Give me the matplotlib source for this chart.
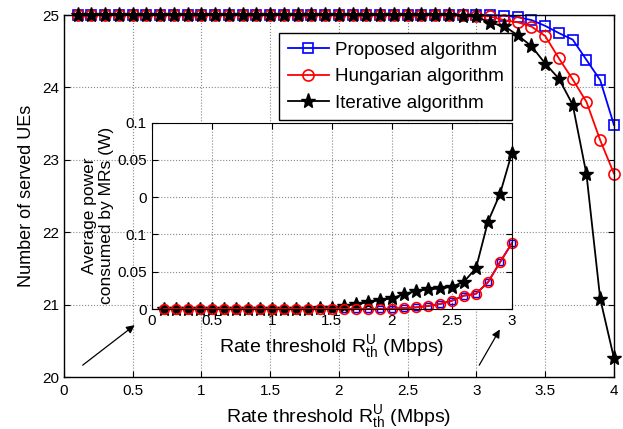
import numpy as np
import matplotlib
matplotlib.use('Agg')
import matplotlib.pyplot as plt

plt.rcParams['font.family'] = ['Liberation Sans', 'DejaVu Sans']
plt.rcParams['mathtext.fontset'] = 'custom'
plt.rcParams['mathtext.rm'] = 'Liberation Sans'
plt.rcParams['mathtext.it'] = 'Liberation Sans'

# main plot: number of served UEs vs rate threshold
rate = np.linspace(0.1, 4.0, 40)
proposed = [25, 25, 25, 25, 25, 25, 25, 25, 25, 25,
            25, 25, 25, 25, 25, 25, 25, 25, 25, 25,
            25, 25, 25, 25, 25, 25, 25, 25, 25, 25,
            25, 24.99, 24.97, 24.93, 24.85, 24.75, 24.66, 24.38, 24.10, 23.48]
hungarian = [25, 25, 25, 25, 25, 25, 25, 25, 25, 25,
             25, 25, 25, 25, 25, 25, 25, 25, 25, 25,
             25, 25, 25, 25, 25, 25, 25, 25, 25, 24.99,
             24.98, 24.93, 24.90, 24.84, 24.71, 24.40, 24.11, 23.80, 23.27, 22.81]
iterative = [25, 25, 25, 25, 25, 25, 25, 25, 25, 25,
             25, 25, 25, 25, 25, 25, 25, 25, 25, 25,
             25, 25, 25, 25, 25, 25, 25, 25, 24.99, 24.98,
             24.89, 24.85, 24.72, 24.57, 24.33, 24.12, 23.76, 22.80, 21.08, 20.26]

# inset: average power consumed by MRs (drawn on the inset's own tick scale)
rate_in = np.linspace(0.1, 3.0, 30)
power_hung = [0, 0, 0, 0, 0, 0, 0, 0, 0, 0,
              0, 0, 0, 0, 0, 0, 0, 0, 0, 0.0005,
              0.0013, 0.0022, 0.004, 0.0067, 0.0111, 0.0179, 0.0205, 0.0358, 0.0627, 0.0885]
power_prop = power_hung
power_iter = [0, 0, 0, 0, 0, 0, 0, 0, 0, 0,
              0, 0, 0, 0.001, 0.0015, 0.004, 0.0067, 0.009, 0.0121, 0.0143,
              0.0201, 0.0241, 0.0264, 0.0277, 0.0299, 0.0367, 0.0546, 0.1172, 0.1543, 0.2097]
inset_ticks = [0, 0.05, 0.1, 0.15, 0.2, 0.25]
inset_tick_labels = ['0', '0.05', '0.1', '0', '0.05', '0.1']

xlab = r'Rate threshold $\mathrm{R}_{\mathrm{th}}^{\mathrm{U}}$ (Mbps)'

fig = plt.figure(figsize=(6.23, 4.29), dpi=100)
ax = fig.add_axes([0.1027, 0.1212, 0.8828, 0.8438])

ax.plot(rate, proposed, '-s', color='blue', lw=1.3, ms=6.5, mfc='none', mew=1.2,
        label='Proposed algorithm', clip_on=False)
ax.plot(rate, hungarian, '-o', color='red', lw=1.3, ms=8, mfc='none', mew=1.2,
        label='Hungarian algorithm', clip_on=False)
ax.plot(rate, iterative, '-*', color='black', lw=1.3, ms=11,
        label='Iterative algorithm', clip_on=False)

ax.set_xlim(0, 4)
ax.set_ylim(20, 25)
ax.set_xticks(np.arange(0, 4.01, 0.5))
ax.set_xticklabels(['0', '0.5', '1', '1.5', '2', '2.5', '3', '3.5', '4'])
ax.set_yticks([20, 21, 22, 23, 24, 25])
ax.tick_params(labelsize=11, direction='in', length=4, top=True, right=True)
ax.tick_params(axis='x', pad=5)
ax.grid(True, linestyle=':', color='#888888', lw=0.8)
ax.set_xlabel(xlab, fontsize=14, labelpad=4)
ax.set_ylabel('Number of served UEs', fontsize=13, labelpad=5)
for s in ax.spines.values():
    s.set_linewidth(1.0)

leg = ax.legend(loc='upper right', bbox_to_anchor=(0.8145, 0.950), fontsize=13.5,
                fancybox=False, edgecolor='black', framealpha=1, borderaxespad=0,
                handlelength=2.2, borderpad=0.45, labelspacing=0.5, handletextpad=0.3)
leg.get_frame().set_linewidth(1.0)

# arrows pointing to the inset axis
ax.annotate('', xy=(0.53, 20.74), xytext=(0.12, 20.14),
            arrowprops=dict(arrowstyle='-|>', color='black', lw=0.9, mutation_scale=12))
ax.annotate('', xy=(3.18, 20.69), xytext=(3.01, 20.13),
            arrowprops=dict(arrowstyle='-|>', color='black', lw=0.9, mutation_scale=12))

# inset
ins = fig.add_axes([0.2435, 0.2797, 0.5783, 0.4343])
ins.plot(rate_in, power_prop, '-s', color='blue', lw=1.3, ms=5, mfc='none', mew=1.0,
         clip_on=False)
ins.plot(rate_in, power_iter, '-*', color='black', lw=1.3, ms=10.5, clip_on=False)
ins.plot(rate_in, power_hung, '-o', color='red', lw=1.3, ms=7, mfc='none', mew=1.2,
         clip_on=False)
ins.set_xlim(0, 3)
ins.set_ylim(0, 0.25)
ins.set_xticks(np.arange(0, 3.01, 0.5))
ins.set_xticklabels(['0', '0.5', '1', '1.5', '2', '2.5', '3'])
ins.set_yticks(inset_ticks)
ins.set_yticklabels(inset_tick_labels)
ins.tick_params(labelsize=11, direction='in', length=4, top=True, right=True)
ins.grid(True, linestyle=':', color='#888888', lw=0.8)
ins.set_xlabel(xlab, fontsize=14, labelpad=4)
ins.set_ylabel('Average power\nconsumed by MRs (W)', fontsize=12.5, labelpad=2)

fig.savefig('out.png', dpi=100)
